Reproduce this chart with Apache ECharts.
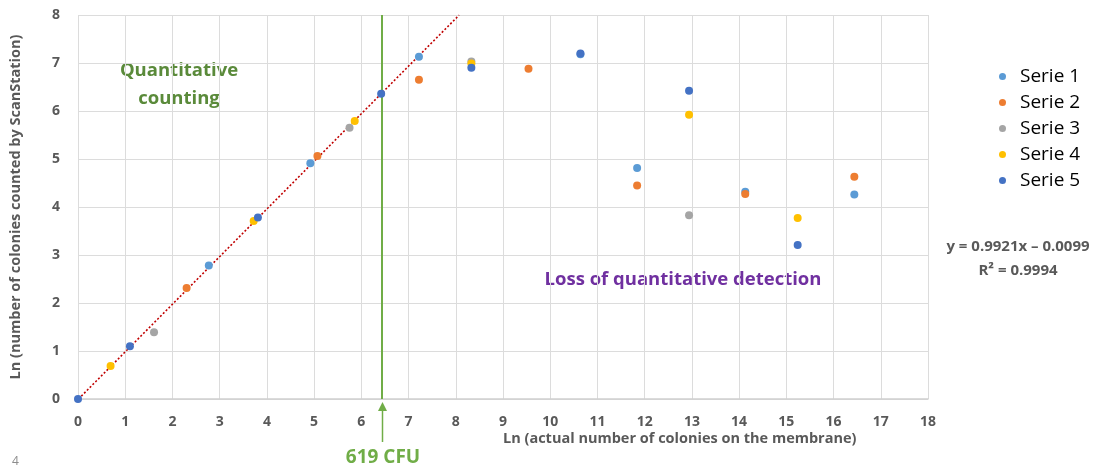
<!DOCTYPE html>
<html>
<head>
<meta charset="utf-8">
<script src="https://cdn.jsdelivr.net/npm/echarts@6/dist/echarts.min.js"></script>
<style>
  html, body { margin: 0; padding: 0; background: #fff; }
  #chart { width: 1094px; height: 470px; }
</style>
</head>
<body>
<div id="chart"></div>
<script>
// data (x = ln actual, y = ln counted)
const serie1 = [[2.77, 2.78], [4.92, 4.91], [7.22, 7.13], [10.64, 7.18], [11.84, 4.81], [14.13, 4.32], [16.44, 4.26]]
const serie2 = [[2.30, 2.31], [5.07, 5.06], [7.22, 6.65], [9.54, 6.88], [11.84, 4.45], [14.13, 4.27], [16.44, 4.63]]
const serie3 = [[1.61, 1.39], [5.75, 5.65], [8.33, 7.03], [12.94, 3.83]]
const serie4 = [[0.69, 0.69], [3.72, 3.71], [5.86, 5.79], [8.33, 6.99], [12.94, 5.92], [15.24, 3.77]]
const serie5 = [[0, 0], [1.10, 1.10], [3.81, 3.78], [6.42, 6.36], [8.33, 6.90], [10.64, 7.20], [12.94, 6.42], [15.24, 3.21]]
const seriesNames = ['Serie 1', 'Serie 2', 'Serie 3', 'Serie 4', 'Serie 5']
const seriesColors = ['#5B9BD5', '#ED7D31', '#A5A5A5', '#FFC000', '#4472C4']
// trend line y = 0.9921x - 0.0099
const trendSlope = 0.9921
const trendIntercept = -0.0099
const trendX = [0.01, 8.07]
const limitCFU = 619

const allData = [serie1, serie2, serie3, serie4, serie5]
const font = '"Open Sans", sans-serif'
const gridLeft = 78, gridRight = 166, gridTop = 15, gridBottom = 71

let chart = echarts.init(document.getElementById('chart'))

const seriesList = []
allData.forEach(function (d, i) {
    seriesList.push({
        type: 'scatter',
        name: seriesNames[i],
        data: d,
        symbolSize: 8,
        itemStyle: { color: seriesColors[i], opacity: 1 },
        z: 5
    })
})
seriesList.push({
    type: 'line',
    name: 'trend',
    data: trendX.map(x => [x, trendSlope * x + trendIntercept]),
    showSymbol: false,
    silent: true,
    lineStyle: { color: '#C00000', width: 1.6, type: [2, 2] },
    z: 4,
    markLine: {
        silent: true,
        symbol: 'none',
        label: { show: false },
        lineStyle: { color: '#70AD47', width: 2, type: 'solid' },
        data: [{ xAxis: Math.log(limitCFU) }]
    }
})

const option = {
    animation: false,
    grid: { left: gridLeft, right: gridRight, top: gridTop, bottom: gridBottom, containLabel: false, outerBoundsMode: 'none' },
    legend: {
        data: seriesNames,
        orient: 'vertical',
        left: 994,
        top: 62,
        icon: 'circle',
        itemWidth: 7,
        itemHeight: 7,
        itemGap: 7,
        textStyle: { fontFamily: font, fontSize: 19, color: '#000', padding: [0, 0, 0, 9] }
    },
    xAxis: {
        type: 'value',
        min: 0,
        max: 18,
        interval: 1,
        axisLine: { show: true, onZero: false, lineStyle: { color: '#D0D0D0', width: 1.5 } },
        axisTick: { show: false },
        splitLine: { lineStyle: { color: '#DCDCDC' } },
        axisLabel: { color: '#595959', fontFamily: font, fontWeight: 'bold', fontSize: 14, margin: 16 }
    },
    yAxis: {
        type: 'value',
        min: 0,
        max: 8,
        interval: 1,
        name: 'Ln (number of colonies counted by ScanStation)',
        nameLocation: 'middle',
        nameGap: 55,
        nameTextStyle: { color: '#595959', fontFamily: font, fontWeight: 'bold', fontSize: 14.5 },
        axisLine: { show: false },
        axisTick: { show: false },
        splitLine: { lineStyle: { color: '#DCDCDC' } },
        axisLabel: { color: '#595959', fontFamily: font, fontWeight: 'bold', fontSize: 14, margin: 18 }
    },
    graphic: [
        { type: 'text', left: 503, top: 431, style: { text: 'Ln (actual number of colonies on the membrane)', fill: '#595959', font: 'bold 14.5px ' + font } },
        { type: 'text', x: 179, y: 57, style: { text: 'Quantitative\ncounting', fill: '#5A8A3A', font: 'bold 18.5px ' + font, textAlign: 'center', lineHeight: 28 } },
        { type: 'text', x: 683, y: 270, style: { text: 'Loss of quantitative detection', fill: '#7030A0', font: 'bold 18.5px ' + font, textAlign: 'center' } },
        { type: 'text', x: 1018, y: 235, style: { text: 'y = 0.9921x \u2013 0.0099\nR\u00B2 = 0.9994', fill: '#595959', font: 'bold 15px ' + font, textAlign: 'center', lineHeight: 24 } },
        { type: 'text', x: 383, y: 448, style: { text: '619 CFU', fill: '#70AD47', font: 'bold 19px ' + font, textAlign: 'center' } },
        { type: 'line', shape: { x1: 382.5, y1: 442, x2: 382.5, y2: 408 }, style: { stroke: '#70AD47', lineWidth: 1.5 } },
        { type: 'polygon', shape: { points: [[378, 411], [382.5, 402], [387, 411]] }, style: { fill: '#70AD47' } },
        { type: 'text', x: 12, y: 456, style: { text: '4', fill: '#8C8C8C', font: '12px ' + font } }
    ],
    series: seriesList
}
chart.setOption(option)
</script>
</body>
</html>
